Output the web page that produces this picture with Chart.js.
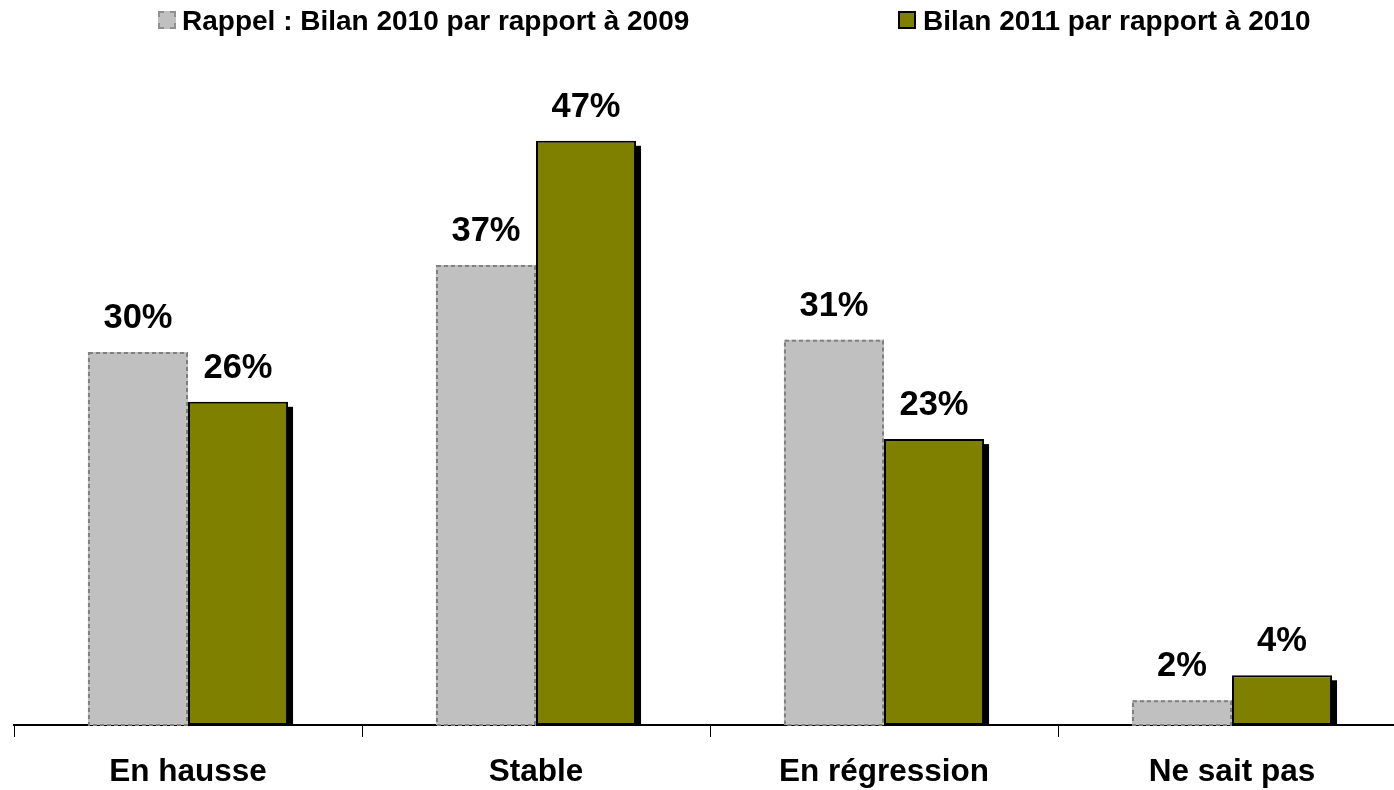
<!DOCTYPE html>
<html>
<head>
<meta charset="utf-8">
<script src="https://cdn.jsdelivr.net/npm/chart.js@4.4.1/dist/chart.umd.min.js"></script>
<style>
  body { margin: 0; overflow: hidden; background: #fff; font-family: "Liberation Sans", Arial, sans-serif; }
  #wrap { position: relative; width: 1420px; height: 790px; }
  .leg { position: absolute; top: 5px; font-weight: bold; font-size: 28px; color: #000; white-space: nowrap; }
  .box { position: absolute; width: 18px; height: 18px; box-sizing: border-box; }
</style>
</head>
<body>
<div id="wrap">
  <canvas id="barChart" width="1420" height="790"></canvas>
  <div class="box" style="left:158px; top:11px; background:#c0c0c0; border:2px dashed #909090;"></div>
  <div class="leg" style="left:182px;">Rappel : Bilan 2010 par rapport à 2009</div>
  <div class="box" style="left:898px; top:11px; background:#808000; border:2px solid #000;"></div>
  <div class="leg" style="left:923px;">Bilan 2011 par rapport à 2010</div>
</div>
<script>
const categories = ["En hausse", "Stable", "En régression", "Ne sait pas"];
const bilan2010 = [30, 37, 31, 2];
const bilan2011 = [26, 47, 23, 4];
const seriesNames = ["Rappel : Bilan 2010 par rapport à 2009", "Bilan 2011 par rapport à 2010"];

const FONT = '"Liberation Sans", Arial, sans-serif';

// shadows on the green bars, dashed outline on the grey ones, value labels
const barDecor = {
  id: "barDecor",
  beforeDatasetsDraw(chart) {
    const ctx = chart.ctx;
    ctx.save();
    ctx.fillStyle = "#000";
    chart.getDatasetMeta(1).data.forEach(el => {
      const p = el.getProps(["x", "y", "base", "width"], true);
      ctx.fillRect(p.x - p.width / 2 + 5, p.y + 5, p.width, p.base - p.y - 5);
    });
    ctx.restore();
  },
  afterDatasetsDraw(chart) {
    const ctx = chart.ctx;
    ctx.save();
    ctx.setLineDash([4, 3]);
    ctx.strokeStyle = "#808080";
    ctx.lineWidth = 2;
    chart.getDatasetMeta(0).data.forEach(el => {
      const p = el.getProps(["x", "y", "base", "width"], true);
      ctx.strokeRect(p.x - p.width / 2 + 1, p.y + 1, p.width - 2, p.base - p.y - 1);
    });
    ctx.setLineDash([]);
    ctx.fillStyle = "#000";
    ctx.font = "bold 34.5px " + FONT;
    ctx.textAlign = "center";
    ctx.textBaseline = "alphabetic";
    chart.data.datasets.forEach((ds, i) => {
      chart.getDatasetMeta(i).data.forEach((el, j) => {
        const p = el.getProps(["x", "y"], true);
        ctx.fillText(ds.data[j] + "%", p.x, p.y - 24);
      });
    });
    ctx.restore();
  }
};

new Chart(document.getElementById("barChart"), {
  type: "bar",
  data: {
    labels: categories,
    datasets: [
      {
        label: seriesNames[0],
        data: bilan2010,
        backgroundColor: "#c0c0c0",
        borderWidth: 0
      },
      {
        label: seriesNames[1],
        data: bilan2011,
        backgroundColor: "#808000",
        borderColor: "#000",
        borderWidth: 2,
        borderSkipped: false
      }
    ]
  },
  options: {
    responsive: false,
    animation: false,
    layout: { padding: { left: 14, right: 14, top: 103.5, bottom: 0 } },
    datasets: { bar: { categoryPercentage: 0.575, barPercentage: 1 } },
    plugins: { legend: { display: false }, tooltip: { enabled: false } },
    scales: {
      x: {
        afterFit(scale) { scale.height = 65; },
        grid: { drawOnChartArea: false, color: "#000", tickLength: 12, lineWidth: 1 },
        border: { color: "#000", width: 2 },
        ticks: { color: "#000", padding: 16, font: { family: FONT, size: 31.5, weight: "bold" } }
      },
      y: { display: false, min: 0, max: 50 }
    }
  },
  plugins: [barDecor]
});
</script>
</body>
</html>
